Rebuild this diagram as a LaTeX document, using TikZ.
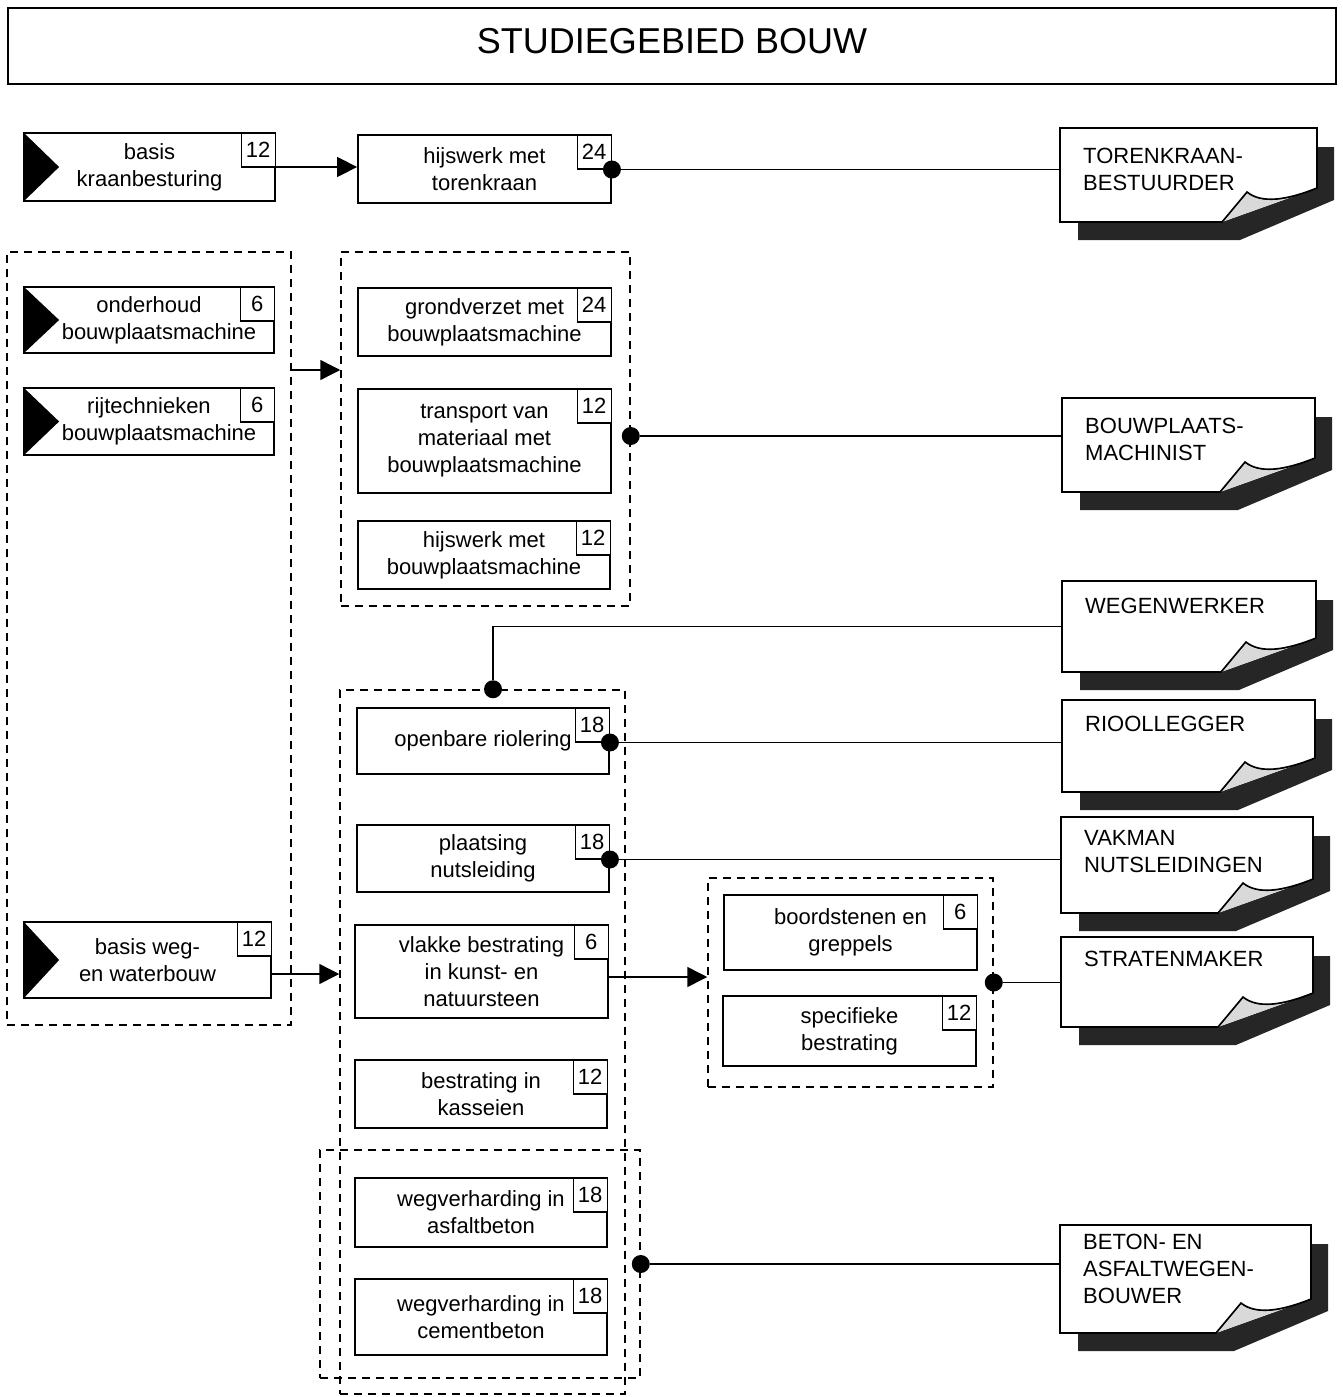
\documentclass[tikz,border=0pt]{standalone}
\usepackage{fontspec}
\setmainfont{Liberation Sans}
\usetikzlibrary{arrows.meta}
\newcommand\myfs{\fontsize{22}{27}\selectfont}
\definecolor{shadowc}{gray}{0.15}
\definecolor{foldc}{gray}{0.85}
\tikzset{
  mod/.style={draw, line width=1.8pt, align=center, inner sep=0pt, font=\myfs},
  num/.style={draw, line width=1.4pt, fill=white, minimum width=34pt, minimum height=34pt, inner sep=0pt, anchor=north east, font=\myfs},
  grp/.style={draw, dash pattern=on 8pt off 6pt, line width=1.5pt, inner sep=0pt},
  dot/.style={circle, fill, inner sep=0pt, minimum size=18pt},
  arr/.style={line width=1.5pt, -{Triangle[length=20pt,width=20pt]}},
  con/.style={line width=1.5pt},
  jobline/.style={line width=1.6pt, line join=miter},
  jobtext/.style={anchor=north west, align=left, inner sep=0pt, font=\myfs}
}
% name x0 y0 x1 y1 text num
\newcommand\modbox[7]{%
  \node[mod, minimum width={(#4)-(#2)}, minimum height={(#5)-(#3)}] (#1) at ({((#2)+(#4))/2},{((#3)+(#5))/2}) {#6};
  \node[num] (#1n) at (#1.north east) {#7};
}
\newcommand\trimark[1]{\fill (#1.north west) -- ([xshift=36pt]#1.west) -- (#1.south west) -- cycle;}
% name x0 y0 x1 y1 texttop text
\newcommand\jobbox[7]{%
  \fill[shadowc] ({#4-95},#5) -- (#4,{#5-34}) -- (#4,{#3+19}) -- ({#4+17},{#3+19}) -- ({#4+17},{#5-22}) -- ({#4-77},{#5+18}) -- ({#2+18},{#5+18}) -- ({#2+18},#5) -- cycle;
  \filldraw[foldc, draw=black, line width=1.2pt] ({#4-95},#5) -- ({#4-70},{#5-30}) .. controls ({#4-55},{#5-18}) and ({#4-30},{#5-22}) .. (#4,{#5-34});
  \draw[jobline, fill=white] (#2,#3) -- (#4,#3) -- (#4,{#5-34}) .. controls ({#4-30},{#5-22}) and ({#4-55},{#5-18}) .. ({#4-70},{#5-30}) -- ({#4-95},#5) -- (#2,#5) -- cycle;
  \node[inner sep=0pt, minimum width={(#4)-(#2)}, minimum height={(#5)-(#3)}] (#1) at ({((#2)+(#4))/2},{((#3)+(#5))/2}) {};
  \node[jobtext] (#1t) at ({#2+23},#6) {#7};
}
\begin{document}
\begin{tikzpicture}[x=1pt,y=-1pt]
\useasboundingbox (0,0) rectangle (1342,1397);
% title
\node[draw, line width=1.5pt, minimum width=1328pt, minimum height=76pt, inner sep=0pt] (tbox) at (672,46) {};
\node[font=\fontsize{36}{40}\selectfont, inner sep=0pt] (title) at (672,41) {STUDIEGEBIED BOUW};

% dashed groups
\node[grp, minimum width=284pt, minimum height=773pt] (gA) at (149,638.5) {};
\node[grp, minimum width=289pt, minimum height=354pt] (gB) at (485.5,429) {};
\node[grp, minimum width=285pt, minimum height=704pt] (gC) at (482.5,1042) {};
\node[grp, minimum width=320pt, minimum height=228pt] (gD) at (480,1264) {};
\node[grp, minimum width=285pt, minimum height=209pt] (gE) at (850.5,982.5) {};

% module boxes
\modbox{m1}{24}{133}{275}{201}{basis\\kraanbesturing}{12}
\trimark{m1}
\modbox{h1}{358}{135}{611}{203}{hijswerk met\\torenkraan}{24}
\modbox{oh}{24}{287}{274}{353}{onderhoud\\\hspace*{20pt}bouwplaatsmachine}{6}
\trimark{oh}
\modbox{rt}{24}{388}{274}{455}{rijtechnieken\\\hspace*{20pt}bouwplaatsmachine}{6}
\trimark{rt}
\modbox{bw}{24}{922}{271}{998}{basis weg-\\en waterbouw}{12}
\trimark{bw}
\modbox{gv}{358}{288}{611}{356}{grondverzet met\\bouwplaatsmachine}{24}
\modbox{tr}{358}{389}{611}{493}{transport van\\materiaal met\\bouwplaatsmachine}{12}
\modbox{hb}{358}{521}{610}{589}{hijswerk met\\bouwplaatsmachine}{12}
\modbox{orl}{357}{708}{609}{774}{openbare riolering}{18}
\modbox{pn}{357}{825}{609}{892}{plaatsing\\nutsleiding}{18}
\modbox{vb}{355}{925}{608}{1018}{vlakke bestrating\\in kunst- en\\natuursteen}{6}
\modbox{bk}{355}{1060}{607}{1128}{bestrating in\\kasseien}{12}
\modbox{wa}{355}{1178}{607}{1247}{wegverharding in\\asfaltbeton}{18}
\modbox{wc}{355}{1279}{607}{1355}{wegverharding in\\cementbeton}{18}
\modbox{bg}{724}{895}{977}{970}{boordstenen en\\greppels}{6}
\modbox{sb}{723}{996}{976}{1066}{specifieke\\bestrating}{12}

% job boxes
\jobbox{j1}{1060}{128}{1317}{222}{148}{TORENKRAAN-\\BESTUURDER}
\jobbox{j2}{1062}{398}{1315}{492}{418}{BOUWPLAATS-\\MACHINIST}
\jobbox{j3}{1062}{581}{1316}{672}{598}{WEGENWERKER}
\jobbox{j4}{1062}{700}{1315}{792}{716}{RIOOLLEGGER}
\jobbox{j5}{1061}{817}{1313}{913}{830}{VAKMAN\\NUTSLEIDINGEN}
\jobbox{j6}{1061}{937}{1313}{1027}{951}{STRATENMAKER}
\jobbox{j7}{1060}{1225}{1311}{1333}{1234}{BETON- EN\\ASFALTWEGEN-\\BOUWER}

% arrows
\draw[arr] (m1.east) -- (m1.east -| h1.west);
\draw[arr] (gA.east |- 0,370) -- (gB.west |- 0,370);
\draw[arr] (bw.east |- 0,974) -- (gC.west |- 0,974);
\draw[arr] (vb.east |- 0,977) -- (gE.west |- 0,977);

% dots
\node[dot] (d1) at (h1n.south east) {};
\node[dot] (dB) at (gB.east |- 0,436) {};
\node[dot] (dW) at (gC.north -| 493,0) {};
\node[dot] (dR) at (orln.south east) {};
\node[dot] (dN) at (pnn.south east) {};
\node[dot] (dE) at (gE.east) {};
\node[dot] (dD) at (gD.east) {};

% connectors
\draw[con] (d1) -- (d1 -| j1.west);
\draw[con] (dB) -- (dB -| j2.west);
\draw[con] (j3.west) -| (dW);
\draw[con] (dR) -- (dR -| j4.west);
\draw[con] (dN) -- (dN -| j5.west);
\draw[con] (dE) -- (dE -| j6.west);
\draw[con] (dD) -- (dD -| j7.west);
\end{tikzpicture}
\end{document}
